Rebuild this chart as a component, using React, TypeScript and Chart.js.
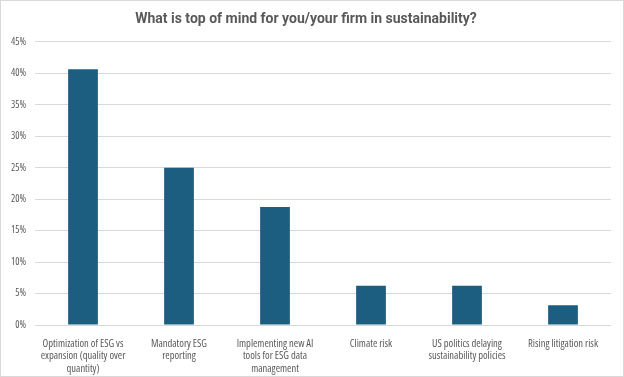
import React, { useEffect, useRef } from "react";
import { Chart, registerables } from "chart.js";

Chart.register(...registerables);

const categories: string[][] = [
  ["Optimization of ESG vs", "expansion (quality over", "quantity)"],
  ["Mandatory ESG", "reporting"],
  ["Implementing new AI", "tools for ESG data", "management"],
  ["Climate risk"],
  ["US politics delaying", "sustainability policies"],
  ["Rising litigation risk"],
];
const values: number[] = [0.40625, 0.25, 0.1875, 0.0625, 0.0625, 0.03125];
const yTicks: number[] = [0, 0.05, 0.1, 0.15, 0.2, 0.25, 0.3, 0.35, 0.4, 0.45];
const titleText = "What is top of mind for you/your firm in sustainability?";

const FONT = "'Open Sans', Roboto, sans-serif";
const TITLE_FONT = "Roboto, 'Open Sans', sans-serif";

export default function App() {
  const ref = useRef<HTMLCanvasElement | null>(null);
  useEffect(() => {
    document.body.style.margin = "0";
    const ctx = ref.current!;
    const chart = new Chart(ctx, {
      type: "bar",
      data: {
        labels: categories,
        datasets: [
          {
            data: values,
            backgroundColor: "#1B5E7F",
            borderWidth: 0,
            barPercentage: 1,
            categoryPercentage: 0.31,
          },
        ],
      },
      options: {
        animation: false,
        responsive: false,
        maintainAspectRatio: false,
        layout: { padding: { left: 0, right: 12, top: 6, bottom: 0 } },
        plugins: {
          legend: { display: false },
          tooltip: { enabled: false },
          title: {
            display: true,
            text: titleText,
            color: "#595959",
            font: { family: TITLE_FONT, size: 14, weight: "bold", lineHeight: 1.2 },
            padding: { top: 4, bottom: 14 },
          },
        },
        scales: {
          x: {
            grid: { display: false, drawTicks: false },
            border: { display: false },
            afterFit: (axis: any) => {
              axis.height = 51;
            },
            ticks: {
              color: "#595959",
              font: { family: FONT, size: 10.5, weight: "condensed" as any, lineHeight: 1.17 },
              maxRotation: 0,
              minRotation: 0,
              autoSkip: false,
              padding: 13,
            },
          },
          y: {
            min: 0,
            max: 0.45,
            afterBuildTicks: (axis: any) => {
              axis.ticks = yTicks.map((v) => ({ value: v }));
            },
            afterFit: (axis: any) => {
              axis.width = 34;
            },
            grid: { color: "#D9D9D9", drawTicks: false },
            border: { display: false },
            ticks: {
              color: "#595959",
              font: { family: FONT, size: 10, weight: "semi-condensed" as any },
              padding: 9,
              callback: (v: any) => Math.round(Number(v) * 100) + "%",
            },
          },
        },
      },
    });
    return () => chart.destroy();
  }, []);
  return (
    <div
      style={{
        position: "absolute",
        left: 0,
        top: 0,
        width: 624,
        height: 377,
        boxSizing: "border-box",
        border: "1px solid #D9D9D9",
        background: "#fff",
      }}
    >
      <canvas ref={ref} width={622} height={375} style={{ display: "block" }} />
    </div>
  );
}
